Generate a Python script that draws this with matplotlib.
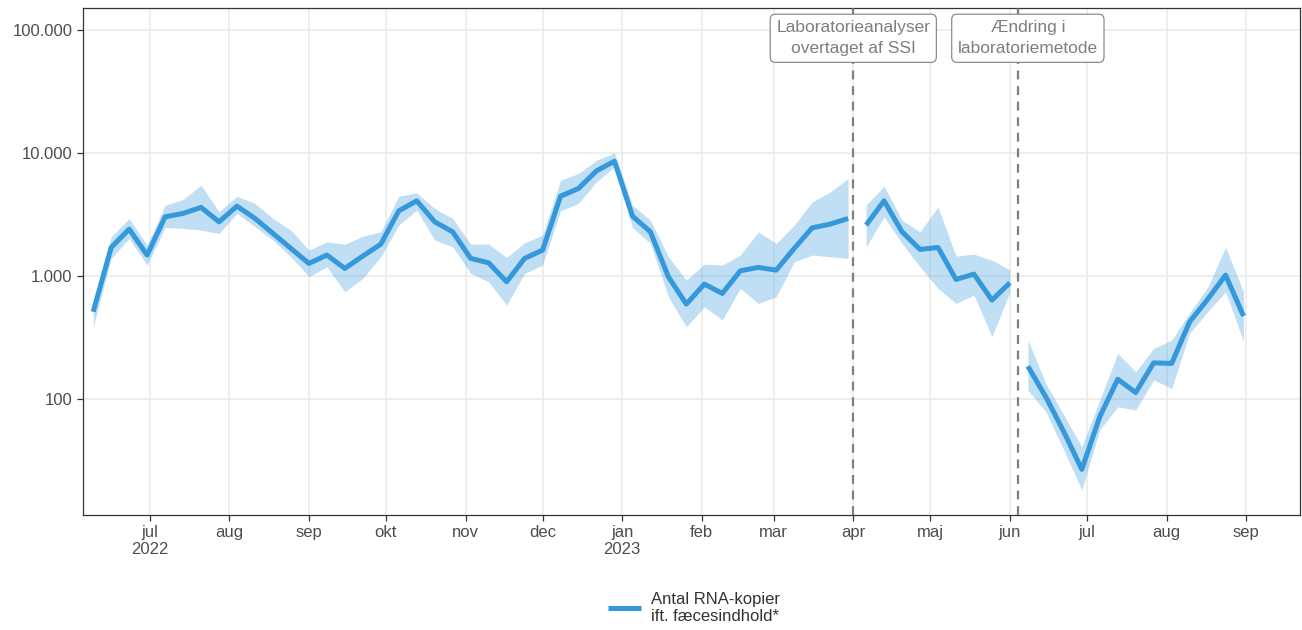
import numpy as np
import pandas as pd
import matplotlib
matplotlib.use("Agg")
import matplotlib.pyplot as plt
import matplotlib.dates as mdates
from matplotlib.ticker import FixedLocator, FuncFormatter, NullLocator

plt.rcParams['font.family'] = ['Liberation Sans', 'DejaVu Sans']

# ugentlige datoer (3 perioder: før SSI, SSI, ny metode)
dates = pd.date_range('2022-06-09', periods=65, freq='7D')

# periode 1
val1 = [513, 1710, 2410, 1483, 3034, 3236, 3620, 2763, 3707, 2944, 2223, 1680, 1268,
        1483, 1155, 1455, 1820, 3396, 4094, 2763, 2291, 1393, 1283, 899, 1393, 1626,
        4467, 5164, 7178, 8603, 3076, 2291, 987, 592, 861, 723, 1104, 1177, 1119,
        1680, 2470, 2648, 2944]
lo1 = [385, 1393, 2026, 1228, 2488, 2442, 2366, 2223, 3236, 2518, 1963, 1435, 987,
       1190, 745, 958, 1435, 2600, 3441, 1963, 1730, 1052, 899, 581, 1052, 1228,
       3396, 3899, 5845, 7740, 2488, 1844, 679, 387, 563, 439, 794, 600, 679,
       1307, 1483, 1435, 1393]
hi1 = [581, 2087, 2944, 1786, 3779, 4203, 5495, 3333, 4467, 3899, 2944, 2366, 1626,
       1901, 1820, 2113, 2291, 4467, 4753, 3548, 2944, 1820, 1820, 1419, 1866, 2154,
       6026, 6838, 8770, 10050, 3779, 2851, 1435, 927, 1253, 1228, 1483, 2291, 1844,
       2600, 4018, 4842, 6223]

# periode 2
val2 = [2600, 4094, 2291, 1648, 1710, 940, 1038, 638, 882]
lo2 = [1730, 3034, 1844, 1190, 794, 600, 701, 321, 745]
hi2 = [3779, 5395, 2851, 2291, 3656, 1455, 1510, 1349, 1119]

# periode 3
val3 = [185, 104, 54.2, 26.8, 71.8, 145, 113, 197, 195, 425, 647, 1018, 473]
lo3 = [118, 78.9, 38.5, 18.2, 56.0, 86.5, 81.4, 143, 122, 342, 513, 745, 292]
hi3 = [302, 134, 74.1, 40.9, 98.2, 235, 167, 258, 302, 503, 809, 1722, 745]

events = ['2023-04-01', '2023-06-04']
event_labels = ['Laboratorieanalyser\novertaget af SSI', 'Ændring i\nlaboratoriemetode']
label_dates = ['2023-04-01', '2023-06-08']

month_names = ['jan', 'feb', 'mar', 'apr', 'maj', 'jun', 'jul', 'aug', 'sep', 'okt', 'nov', 'dec']

blue = '#3498db'

fig = plt.figure(figsize=(13.02, 6.3), dpi=100)
ax = fig.add_axes([0.0637, 0.1825, 0.9348, 0.8045])

n1, n2 = len(val1), len(val2)
segs = [(dates[:n1], val1, lo1, hi1),
        (dates[n1:n1 + n2], val2, lo2, hi2),
        (dates[n1 + n2:], val3, lo3, hi3)]
for i, (d, v, lo, hi) in enumerate(segs):
    ax.fill_between(d, lo, hi, color=blue, alpha=0.3, lw=0, zorder=2)
    ax.plot(d, v, color=blue, lw=3.6, solid_capstyle='butt', zorder=3,
            label='Antal RNA-kopier\nift. fæcesindhold*' if i == 0 else None)

for e in events:
    ax.axvline(pd.Timestamp(e), color='#7f7f7f', lw=1.6, ls=(0, (4, 3)), zorder=4)

for ld, txt in zip(label_dates, event_labels):
    ax.text(pd.Timestamp(ld), 8.6e4, txt, ha='center', va='center',
            fontsize=12.5, color='#7f7f7f', zorder=6, linespacing=1.5,
            bbox=dict(boxstyle='round,pad=0.35,rounding_size=0.3', fc='white',
                      ec='#7f7f7f', lw=0.8))

ax.set_yscale('log')
ax.set_ylim(10 ** 1.057, 10 ** 5.179)
ax.yaxis.set_major_locator(FixedLocator([100, 1000, 10000, 100000]))
ax.yaxis.set_minor_locator(NullLocator())
ax.yaxis.set_major_formatter(FuncFormatter(lambda v, p: f'{int(round(v)):,}'.replace(',', '.')))

ax.set_xlim(pd.Timestamp('2022-06-05'), pd.Timestamp('2023-09-22'))
ax.xaxis.set_major_locator(mdates.MonthLocator())
ax.xaxis.set_minor_locator(NullLocator())


def month_fmt(x, pos):
    d = mdates.num2date(x)
    s = month_names[d.month - 1]
    if d.month == 1 or pos == 0:
        s += '\n' + str(d.year)
    return s


ax.xaxis.set_major_formatter(FuncFormatter(month_fmt))

ax.grid(True, color='#ebebeb', lw=1.2, zorder=0)
ax.set_axisbelow(True)
for sp in ax.spines.values():
    sp.set_color('#333333')
    sp.set_linewidth(0.9)
ax.tick_params(axis='both', colors='#333333', labelcolor='#4d4d4d', labelsize=12,
               length=4, width=0.9)
ax.tick_params(axis='x', pad=3)

fig.legend(loc='center', bbox_to_anchor=(0.533, 0.035), frameon=False, fontsize=12,
           handlelength=2.0, handletextpad=0.6, labelcolor='#333333')

fig.savefig('out.png', dpi=100)
